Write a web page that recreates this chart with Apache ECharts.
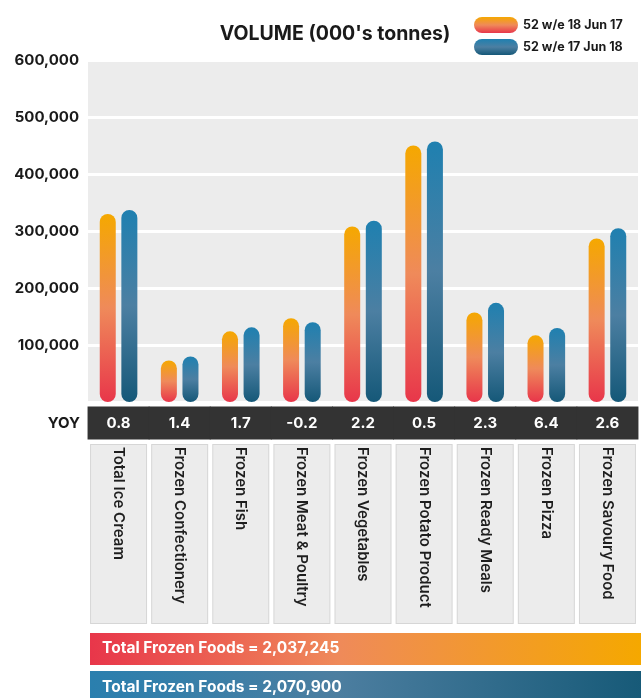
<!DOCTYPE html>
<html><head><meta charset="utf-8">
<script src="https://cdn.jsdelivr.net/npm/echarts@6/dist/echarts.min.js"></script>
<style>html,body{margin:0;padding:0;background:#fff}#c{width:641px;height:698px}</style>
</head><body><div id="c"></div>
<script>
const categories = ['Total Ice Cream','Frozen Confectionery','Frozen Fish','Frozen Meat & Poultry','Frozen Vegetables','Frozen Potato Product','Frozen Ready Meals','Frozen Pizza','Frozen Savoury Food'];
const seriesNames = ['52 w/e 18 Jun 17','52 w/e 17 Jun 18'];
const vol2017 = [330000, 73000, 124000, 147000, 308000, 450000, 157000, 117000, 287000];
const vol2018 = [337000, 80000, 131000, 140000, 318000, 457000, 174000, 130000, 305000];
const yoy = ['0.8','1.4','1.7','-0.2','2.2','0.5','2.3','6.4','2.6'];
const totals = [2037245, 2070900];
const titleText = "VOLUME (000's tonnes)";

const FONT = 'Inter';
const fmt = v => Number(v).toLocaleString('en-US');
const grad = (a,b,c) => ({type:'linear',x:0,y:0,x2:0,y2:1,colorStops:[{offset:0,color:a},{offset:0.5,color:b},{offset:1,color:c}]});
const orangeGrad = grad('#f5a800','#ef8a5a','#e8364a');
const blueGrad = grad('#1f80b0','#4c7fa2','#155878');
const pill = 'path://M8,0 H36 A8,8 0 0 1 36,16 H8 A8,8 0 0 1 8,0 Z';

const chart = echarts.init(document.getElementById('c'));
chart.setOption({
  backgroundColor:'#fff',
  animation:false,
  textStyle:{fontFamily:FONT},
  title:{text:titleText,left:330,top:19,textAlign:'center',textStyle:{fontFamily:FONT,fontWeight:'bold',fontSize:19.5,color:'#1a1a1a'}},
  legend:{orient:'vertical',left:469,top:12,itemWidth:44,itemHeight:16,itemGap:6,
    data:[{name:seriesNames[0],icon:pill},{name:seriesNames[1],icon:pill}],
    textStyle:{fontFamily:FONT,fontWeight:'bold',fontSize:12.5,color:'#1a1a1a'}},
  grid:{left:88,top:60,width:558,height:342,show:true,backgroundColor:'#ececec',borderWidth:0},
  xAxis:[
    {type:'category',data:categories,position:'bottom',offset:43,
      axisLine:{show:false},axisTick:{show:false},
      axisLabel:{interval:0,rotate:-90,margin:0,fontFamily:FONT,fontWeight:600,fontSize:15,color:'#1e1e1e',
        backgroundColor:'#ececec',borderColor:'#d6d6d6',borderWidth:1,width:176,lineHeight:55,padding:[0,0,0,2],align:'left',verticalAlign:'middle'}},
    {type:'category',data:yoy,position:'bottom',offset:21,
      name:'YOY',nameLocation:'start',nameGap:8,nameTextStyle:{fontFamily:FONT,fontWeight:'bold',fontSize:15,color:'#1a1a1a',align:'right',verticalAlign:'middle'},
      axisLine:{show:false},axisTick:{show:false},
      axisLabel:{interval:0,margin:0,fontFamily:FONT,fontWeight:'bold',fontSize:15,color:'#fff',
        backgroundColor:'#333333',width:62,lineHeight:33,align:'center',verticalAlign:'middle'}}
  ],
  yAxis:{type:'value',min:0,max:600000,interval:100000,
    axisLine:{show:false},axisTick:{show:false},
    splitLine:{lineStyle:{color:'#ffffff',width:3}},
    axisLabel:{margin:9,fontFamily:FONT,fontWeight:'bold',fontSize:15,color:'#1a1a1a',formatter:v=>v===0?'':fmt(v)}},
  series:[
    {name:seriesNames[0],type:'bar',xAxisIndex:0,data:vol2017,barWidth:16,barGap:'35%',itemStyle:{color:orangeGrad,borderRadius:8}},
    {name:seriesNames[1],type:'bar',xAxisIndex:0,data:vol2018,barWidth:16,itemStyle:{color:blueGrad,borderRadius:8}}
  ],
  graphic:[
    {type:'rect',left:90,top:633,shape:{width:551,height:32},style:{fill:{type:'linear',x:0,y:0,x2:1,y2:0,colorStops:[{offset:0,color:'#e8364a'},{offset:0.45,color:'#ef8a5a'},{offset:1,color:'#f5a800'}]}}},
    {type:'text',left:102,top:640,style:{text:'Total Frozen Foods = '+fmt(totals[0]),fill:'#fff',font:'bold 15.5px '+FONT}},
    {type:'rect',left:90,top:671,shape:{width:551,height:30},style:{fill:{type:'linear',x:0,y:0,x2:1,y2:0,colorStops:[{offset:0,color:'#2a7fae'},{offset:0.45,color:'#4c7ea0'},{offset:1,color:'#175a78'}]}}},
    {type:'text',left:102,top:679,style:{text:'Total Frozen Foods = '+fmt(totals[1]),fill:'#fff',font:'bold 15.5px '+FONT}}
  ]
});
</script></body></html>
